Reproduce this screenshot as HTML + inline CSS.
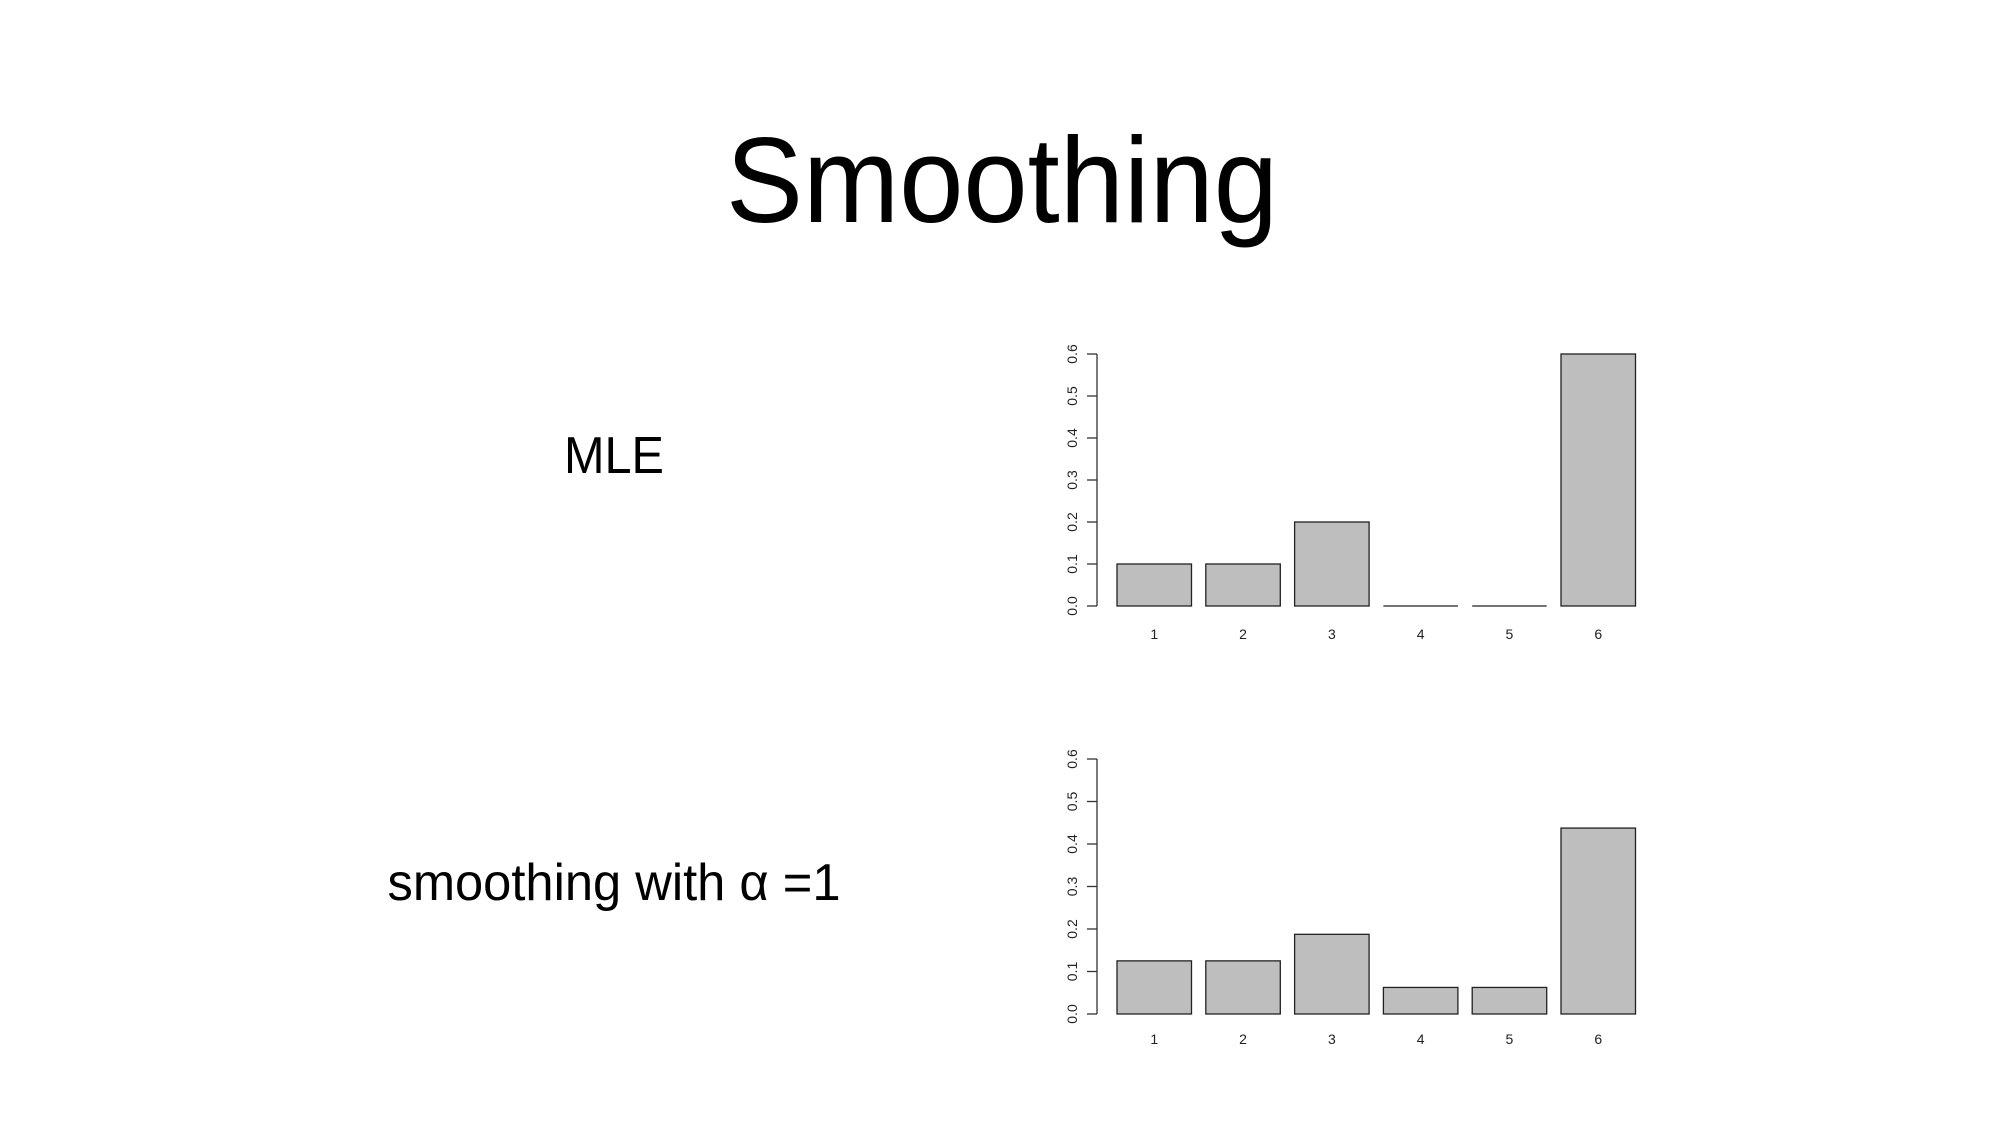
<!DOCTYPE html>
<html><head><meta charset="utf-8"><style>
html,body{margin:0;padding:0;background:#fff;}
svg{display:block;font-family:"Liberation Sans",Arial,sans-serif;}
</style></head><body>
<svg id="page" width="2000" height="1125" viewBox="0 0 2000 1125">
<text x="1002" y="222" font-size="122" text-anchor="middle" textLength="552" lengthAdjust="spacingAndGlyphs">Smoothing</text>
<text x="614" y="473" font-size="52" text-anchor="middle" textLength="100" lengthAdjust="spacingAndGlyphs">MLE</text>
<text x="614" y="900" font-size="52" text-anchor="middle" textLength="453" lengthAdjust="spacingAndGlyphs">smoothing with α =1</text>
<g id="chart1"></g>
<g id="chart2"></g>
</svg>
<script>
const categories = ["1","2","3","4","5","6"];
const mleValues = [0.1, 0.1, 0.2, 0, 0, 0.6];
const smoothValues = [0.125, 0.125, 0.1875, 0.0625, 0.0625, 0.4375];
const yTicks = [0, 0.1, 0.2, 0.3, 0.4, 0.5, 0.6];
const yTickLabels = ["0.0","0.1","0.2","0.3","0.4","0.5","0.6"];
const NS = "http://www.w3.org/2000/svg";
function mk(tag, attrs, parent){const e=document.createElementNS(NS,tag);for(const k in attrs)e.setAttribute(k,attrs[k]);parent.appendChild(e);return e;}
function drawChart(g, values, y0, y6, labelY){
  const yScale = v => y0 + (y6 - y0) * (v / 0.6);
  const xStart = 1117, pitch = 88.8, barW = 74.5, axisX = 1097;
  const axis = mk('line',{x1:axisX,x2:axisX,y1:yScale(0),y2:yScale(0.6),stroke:'#333','stroke-width':1.3},g);
  
  
  yTicks.forEach((t,i)=>{
    const y = yScale(t);
    const tk = mk('line',{x1:axisX-10,x2:axisX,y1:y,y2:y,stroke:'#333','stroke-width':1.3},g);
    
    
    const tl = mk('text',{x:0,y:0,'font-size':14,'text-anchor':'middle',fill:'#222',transform:`translate(1077,${y}) rotate(-90)`},g);
    tl.textContent = yTickLabels[i];
    
    
  });
  values.forEach((v,i)=>{
    const x = xStart + i*pitch;
    const top = yScale(v), base = yScale(0);
    let r;
    if (base - top < 0.5) {
      r = mk('line',{x1:x,x2:x+barW,y1:base,y2:base,stroke:'#222','stroke-width':1.3},g);
    } else {
      r = mk('rect',{x:x,y:top,width:barW,height:base-top,fill:'#bebebe',stroke:'#222','stroke-width':1.3},g);
    }
    
    
    const l = mk('text',{x:x+barW/2,y:labelY,'font-size':14,'text-anchor':'middle',fill:'#222'},g);
    l.textContent = categories[i];
    
    
  });
}
drawChart(document.getElementById('chart1'), mleValues, 606, 354, 639);
drawChart(document.getElementById('chart2'), smoothValues, 1014, 759, 1044);
</script>
</body></html>
